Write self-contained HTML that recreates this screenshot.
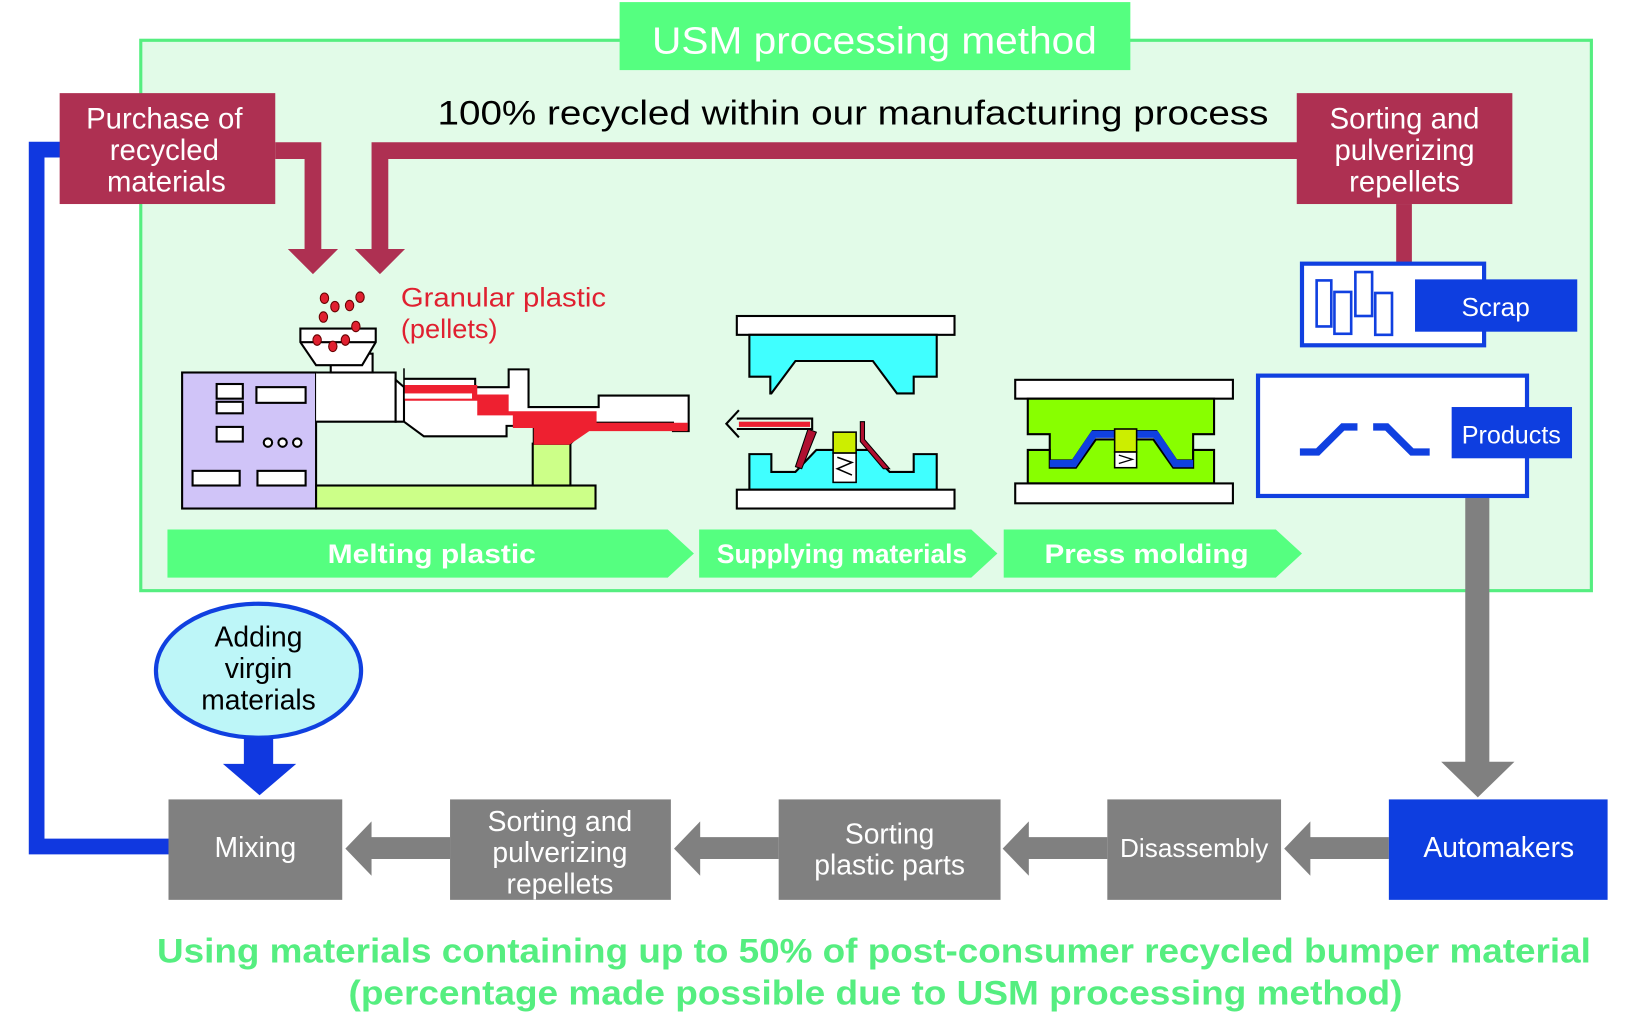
<!DOCTYPE html>
<html><head><meta charset="utf-8"><style>
html,body{margin:0;padding:0;background:#fff;}
svg{display:block;}
text{font-family:"Liberation Sans",Arial,sans-serif;}
</style></head><body>
<svg width="1639" height="1016" viewBox="0 0 1566 971" preserveAspectRatio="none" xmlns="http://www.w3.org/2000/svg">
<rect x="134.5" y="38.5" width="1386" height="526" fill="#e2fbe8" stroke="#55ee80" stroke-width="3"/>
<rect x="592" y="2" width="488" height="65" fill="#55ff80"/>
<text x="623" y="51" font-size="36" fill="#fff" textLength="425" lengthAdjust="spacingAndGlyphs">USM processing method</text>
<text x="418" y="119" font-size="33" fill="#000" textLength="794" lengthAdjust="spacingAndGlyphs">100% recycled within our manufacturing process</text>

<path d="M161 809 H35 V143 H60" fill="none" stroke="#1038e0" stroke-width="15"/>

<path d="M263 136 H307 V238 H323 L299 262 L275 238 H291 V152 H263 Z" fill="#ae3052"/>
<path d="M1240 136 H355 V238 H339 L363 262 L387 238 H371 V152 H1240 Z" fill="#ae3052"/>
<rect x="1334" y="195" width="15" height="57" fill="#ae3052"/>

<rect x="57" y="89" width="206" height="106" fill="#ae3052"/>
<text font-size="28" fill="#fff" text-anchor="middle"><tspan x="157" y="123">Purchase of</tspan><tspan x="157" y="153">recycled</tspan><tspan x="159" y="183">materials</tspan></text>
<rect x="1239" y="89" width="206" height="106" fill="#ae3052"/>
<text font-size="28" fill="#fff" text-anchor="middle"><tspan x="1342" y="123">Sorting and</tspan><tspan x="1342" y="153">pulverizing</tspan><tspan x="1342" y="183">repellets</tspan></text>

<rect x="1244" y="252" width="174" height="78" fill="#fff" stroke="#1040e0" stroke-width="4"/>
<g fill="none" stroke="#1040e0" stroke-width="2.5">
<rect x="1258" y="268" width="14" height="44"/><rect x="1275" y="279" width="16" height="40"/>
<rect x="1295" y="260" width="16" height="42"/><rect x="1314" y="280" width="16" height="40"/></g>
<rect x="1352" y="267" width="155" height="50" fill="#0e3ee0"/>
<text x="1429" y="302" font-size="25" fill="#fff" text-anchor="middle">Scrap</text>

<rect x="1202" y="359" width="257" height="115" fill="#fff" stroke="#1040e0" stroke-width="4"/>
<path d="M1242 432 H1259 L1283 408 H1297" fill="none" stroke="#1040e0" stroke-width="7"/>
<path d="M1312 408 H1325 L1349 432 H1366" fill="none" stroke="#1040e0" stroke-width="7"/>
<rect x="1387" y="389" width="115" height="49" fill="#0e3ee0"/>
<text x="1444" y="424" font-size="24" fill="#fff" text-anchor="middle">Products</text>

<path d="M1400 476 H1423 V728 H1447 L1412 762 L1377 728 H1400 Z" fill="#808080"/>

<rect x="174" y="356" width="128" height="130" fill="#d0c4f8" stroke="#000" stroke-width="2"/>
<g fill="#fff" stroke="#000" stroke-width="2">
<rect x="207" y="367" width="25" height="14"/><rect x="207" y="384" width="25" height="11"/>
<rect x="245" y="370" width="47" height="15"/><rect x="207" y="408" width="25" height="14"/>
<rect x="184" y="450" width="45" height="14"/><rect x="246" y="450" width="46" height="14"/>
<circle cx="256" cy="423" r="4"/><circle cx="270" cy="423" r="4"/><circle cx="284" cy="423" r="4"/></g>
<rect x="302" y="464" width="267" height="22" fill="#ccff88" stroke="#000" stroke-width="2"/>
<rect x="509" y="424" width="36" height="40" fill="#ccff88" stroke="#000" stroke-width="2"/>
<path d="M302 356 H378 V403 H302" fill="#fff" stroke="#000" stroke-width="2"/>
<path d="M378 363 L386 370 V403 L378 403 Z M386 362 H454 V370 H486 V353 H505 V389 H572 V378 H658 V412 H643 V404 H564 L545 424 H510 V407 H484 V417 H405 L386 403" fill="#fff" stroke="#000" stroke-width="2"/>
<path d="M386 368 H456 V377 H486 V393 H570 V404 H657 V412 H563 L544 425 H510 V409 H490 V397 H456 V383 H386 Z" fill="#ee2030"/>
<rect x="386" y="376" width="65" height="5" fill="#fff"/>
<path d="M386 352 V398" stroke="#000" stroke-width="1.5"/>
<rect x="316" y="338" width="40" height="18" fill="#fff" stroke="#000" stroke-width="2"/>
<path d="M287 314 H359 V327 L346 349 H302 L287 327 Z" fill="#fff" stroke="#000" stroke-width="2"/>
<path d="M287 327 H359" stroke="#000" stroke-width="2"/>
<g fill="#e02030" stroke="#600" stroke-width="1">
<ellipse cx="310" cy="285" rx="4" ry="5"/><ellipse cx="320" cy="293" rx="4" ry="5"/><ellipse cx="334" cy="292" rx="4" ry="5"/>
<ellipse cx="344" cy="284" rx="4" ry="5"/><ellipse cx="309" cy="303" rx="4" ry="5"/><ellipse cx="340" cy="312" rx="4" ry="5"/>
<ellipse cx="303" cy="325" rx="4" ry="5"/><ellipse cx="330" cy="325" rx="4" ry="5"/><ellipse cx="318" cy="331" rx="4" ry="5"/></g>
<text font-size="26" fill="#e02030"><tspan x="383" y="293" textLength="196" lengthAdjust="spacingAndGlyphs">Granular plastic</tspan><tspan x="383" y="323">(pellets)</tspan></text>

<rect x="704" y="302" width="208" height="18" fill="#fff" stroke="#000" stroke-width="2"/>
<path d="M716 320 H895 V360 H873 V376 H857 L834 345 H760 L737 376 H736 V360 H716 Z" fill="#40ffff" stroke="#000" stroke-width="2"/>
<path d="M716 468 V434 H737 V451 H760 L780 430 H830 L850 451 H873 V434 H895 V468 Z" fill="#40ffff" stroke="#000" stroke-width="2"/>
<rect x="704" y="468" width="208" height="18" fill="#fff" stroke="#000" stroke-width="2"/>
<path d="M772 410 L760 446 L766 448 L780 413 Z M826 403 V420 L850 448 L844 448 L822 422 V403 Z" fill="#b01030" stroke="#000" stroke-width="1"/>
<rect x="796" y="413" width="22" height="20" fill="#ccee00" stroke="#000" stroke-width="1.5"/>
<rect x="796" y="433" width="22" height="28" fill="#fff" stroke="#000" stroke-width="1.5"/>
<path d="M800 437 L814 442 L800 448 L814 454" fill="none" stroke="#000" stroke-width="1.5"/>
<path d="M704 400 H776 V410 H704 M706 392 L694 405 L706 418" fill="none" stroke="#000" stroke-width="2"/>
<rect x="706" y="403" width="68" height="5" fill="#ee2030"/>

<rect x="970" y="363" width="208" height="18" fill="#fff" stroke="#000" stroke-width="2"/>
<path d="M982 381 H1160 V415 H1140 V440 H1124 L1105 412 H1044 L1025 440 H1003 V415 H982 Z" fill="#88ff00" stroke="#000" stroke-width="2"/>
<path d="M982 462 V430 H1003 V447 H1028 L1047 420 H1102 L1121 447 H1140 V430 H1160 V462 Z" fill="#88ff00" stroke="#000" stroke-width="2"/>
<path d="M1003 443 H1026 L1045 415 H1104 L1123 443 H1140" fill="none" stroke="#1040e0" stroke-width="7"/>
<rect x="1065" y="410" width="21" height="22" fill="#ccee00" stroke="#000" stroke-width="1.5"/>
<rect x="1065" y="432" width="21" height="15" fill="#fff" stroke="#000" stroke-width="1.5"/>
<path d="M1069 435 L1082 439 L1069 443" fill="none" stroke="#000" stroke-width="1.2"/>
<rect x="970" y="462" width="208" height="19" fill="#fff" stroke="#000" stroke-width="2"/>

<g fill="#55ff80">
<path d="M160 506 H638 L663 529 L638 552 H160 Z"/>
<path d="M668 506 H928 L953 529 L928 552 H668 Z"/>
<path d="M959 506 H1219 L1244 529 L1219 552 H959 Z"/></g>
<g font-size="26" fill="#fff" font-weight="bold">
<text x="313" y="538" textLength="199" lengthAdjust="spacingAndGlyphs">Melting plastic</text>
<text x="685" y="538" textLength="239" lengthAdjust="spacingAndGlyphs">Supplying materials</text>
<text x="998" y="538" textLength="195" lengthAdjust="spacingAndGlyphs">Press molding</text></g>

<ellipse cx="247" cy="641" rx="98" ry="64" fill="#bdf6f8" stroke="#1040e0" stroke-width="4"/>
<text font-size="27" fill="#000" text-anchor="middle"><tspan x="247" y="618">Adding</tspan><tspan x="247" y="648">virgin</tspan><tspan x="247" y="678">materials</tspan></text>
<path d="M233 705 H261 V730 H283 L248 760 L213 730 H233 Z" fill="#1038e0"/>

<g fill="#808080">
<rect x="161" y="764" width="166" height="96"/>
<rect x="430" y="764" width="211" height="96"/>
<rect x="744" y="764" width="212" height="96"/>
<rect x="1058" y="764" width="166" height="96"/>
<path d="M430 800 H355 V785 L330 811 L355 837 V821 H430 Z"/>
<path d="M744 800 H669 V785 L644 811 L669 837 V821 H744 Z"/>
<path d="M1058 800 H983 V785 L958 811 L983 837 V821 H1058 Z"/>
<path d="M1327 800 H1252 V785 L1227 811 L1252 837 V821 H1327 Z"/></g>
<rect x="1327" y="764" width="209" height="96" fill="#0e3ee0"/>
<g font-size="27" fill="#fff" text-anchor="middle">
<text x="244" y="819">Mixing</text>
<text x="535" y="794">Sorting and</text><text x="535" y="824">pulverizing</text><text x="535" y="854">repellets</text>
<text x="850" y="806">Sorting</text><text x="850" y="836">plastic parts</text>
<text x="1141" y="819" font-size="25">Disassembly</text>
<text x="1432" y="819">Automakers</text></g>

<g font-size="33" fill="#55ee80" font-weight="bold">
<text x="150" y="920" textLength="1370" lengthAdjust="spacingAndGlyphs">Using materials containing up to 50% of post-consumer recycled bumper material</text>
<text x="333" y="960" textLength="1007" lengthAdjust="spacingAndGlyphs">(percentage made possible due to USM processing method)</text></g>
</svg>
</body></html>
